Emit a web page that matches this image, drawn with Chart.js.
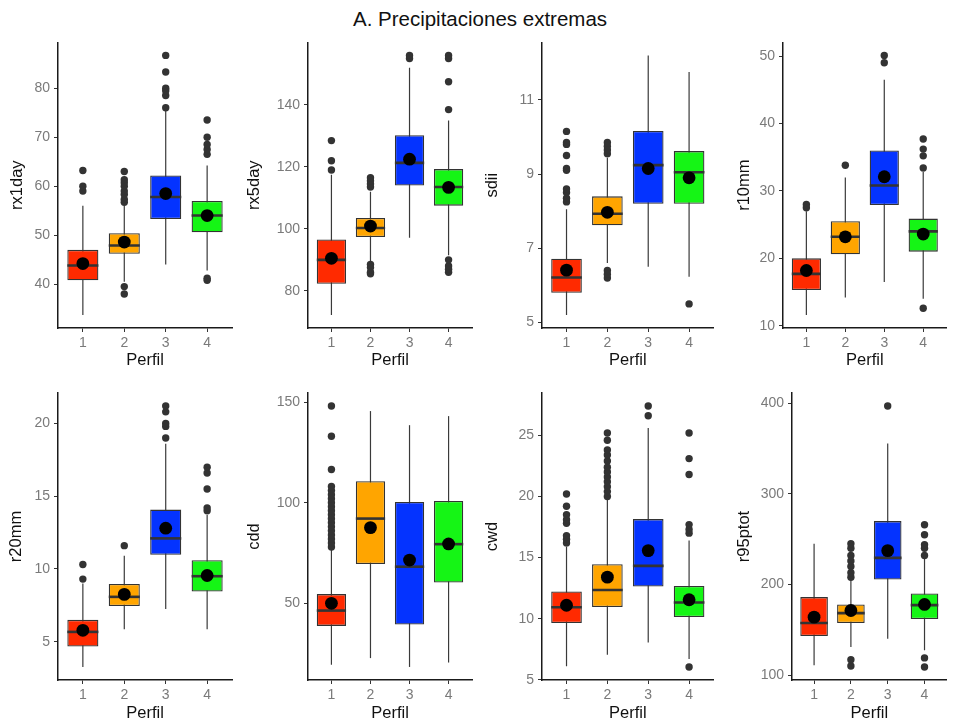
<!DOCTYPE html>
<html>
<head>
<meta charset="utf-8">
<script src="https://cdn.jsdelivr.net/npm/chart.js@4.4.1/dist/chart.umd.min.js"></script>
<style>
body{margin:0;background:#fff;width:953px;height:724px;position:relative;overflow:hidden;font-family:"Liberation Sans",Arial,sans-serif}
#title{position:absolute;left:0;width:960px;top:7px;text-align:center;font-size:20.5px;color:#111}
canvas{position:absolute}
</style>
</head>
<body>
<div id="title">A. Precipitaciones extremas</div>
<script>
// categories (Perfil) and box colours
const perfiles = [1, 2, 3, 4]
const boxColors = ["#ff2a00", "#ffa500", "#0433ff", "#15f515"]

// stats per perfil: [lower whisker, Q1, median, Q3, upper whisker]
const rx1day_stats = [[33.7,40.8,43.8,47.0,56.0],[40.5,46.2,47.9,50.4,56.0],[44.0,53.3,57.8,62.2,75.5],[42.8,50.6,54.0,57.0,64.2]]
const rx1day_mean = [44.2, 48.6, 58.5, 54.0]
const rx1day_out = [[59.0,60.0,63.2],[38.0,39.5,56.7,57.3,58.3,59.0,60.0,60.7,61.3,63.0],[76.0,78.5,79.5,80.0,83.3,86.7],[40.8,41.2,66.5,67.5,68.5,70.0,73.5]]
const rx1day_ticks = [40, 50, 60, 70, 80]

const rx5day_stats = [[72.2,82.3,90.0,96.6,117.5],[89.5,97.4,100.3,103.5,112.0],[97.1,114.0,121.3,130.2,152.0],[91.5,107.5,113.5,119.3,135.0]]
const rx5day_mean = [90.5, 100.9, 122.5, 113.4]
const rx5day_out = [[119.0,122.0,128.5],[85.5,86.0,87.5,88.5,113.5,114.5,115.5,116.5],[155.0,156.0],[86.0,87.0,88.0,90.0,138.5,147.5,155.0,156.0]]
const rx5day_ticks = [80, 100, 120, 140]

const sdii_stats = [[5.2,5.8,6.21,6.72,8.05],[6.6,7.62,7.93,8.4,9.45],[6.5,8.2,9.24,10.16,12.2],[6.23,8.2,9.05,9.62,11.75]]
const sdii_mean = [6.41, 7.97, 9.15, 8.9]
const sdii_out = [[8.25,8.35,8.5,8.6,9.1,9.15,9.5,9.8,9.85,10.15],[6.2,6.3,6.4,9.55,9.65,9.75,9.85],[],[5.5]]
const sdii_ticks = [5, 7, 9, 11]

const r10mm_stats = [[11.6,15.3,17.7,20.0,27.0],[14.2,20.6,23.2,25.5,32.0],[16.5,27.9,30.8,36.0,46.5],[14.0,21.0,24.0,25.9,32.8]]
const r10mm_mean = [18.2, 23.2, 32.1, 23.6]
const r10mm_out = [[27.5,28.0],[33.8],[49.0,50.1],[12.6,33.4,35.2,36.2,37.7]]
const r10mm_ticks = [10, 20, 30, 40, 50]

const r20mm_stats = [[3.26,4.66,5.67,6.5,9.0],[5.85,7.45,8.08,8.97,10.9],[7.25,10.98,12.1,14.08,18.6],[5.85,8.44,9.5,10.6,13.7]]
const r20mm_mean = [5.78, 8.25, 12.8, 9.55]
const r20mm_out = [[9.3,10.3],[11.6],[19.0,19.8,20.0,20.8,21.2],[14.0,14.2,15.5,16.6,17.0]]
const r20mm_ticks = [5, 10, 15, 20]

const cdd_stats = [[19.5,38.8,46.4,54.6,77.0],[22.8,69.5,92.1,110.7,145.5],[18.4,39.5,68.2,100.3,138.5],[20.6,60.3,79.4,100.8,143.0]]
const cdd_mean = [50.0, 87.6, 71.5, 79.5]
const cdd_out = [[78,80,82,84,86,88,90,92,94,96,98,100,102,104,106,108,116.5,133,148],[],[],[]]
const cdd_ticks = [50, 100, 150]

const cwd_stats = [[6.1,9.65,10.93,12.23,15.9],[7.05,10.95,12.35,14.46,19.8],[8.05,12.63,14.32,18.15,25.6],[6.7,10.14,11.33,12.67,16.4]]
const cwd_mean = [11.1, 13.4, 15.57, 11.55]
const cwd_out = [[16.2,16.5,16.8,17.8,18.1,18.5,19.2,20.2],[20.0,20.4,20.8,21.2,21.6,22.0,22.4,22.9,23.4,23.8,24.6,25.2],[26.6,27.4],[6.05,17.0,17.3,17.7,21.8,23.1,25.2]]
const cwd_ticks = [5, 10, 15, 20, 25]

const r95ptot_stats = [[111,143.2,157.5,186.1,245],[131,157.5,168.4,178,205],[140,205.5,229.4,270,355.7],[127.5,161.9,177.3,190.1,230]]
const r95ptot_mean = [164, 171.3, 237.4, 178]
const r95ptot_out = [[],[110,117,208,213,220,226,232,240,245],[397],[109,119,232,240,244,255,266]]
const r95ptot_ticks = [100, 200, 300, 400]

// panel placement: cell left/top/width/height, axis x, axis right, axis top, axis bottom, y title centre
const panels = [
  ["rx1day", rx1day_stats, rx1day_mean, rx1day_out, rx1day_ticks, [0,30,240,340, 58,232,40,328, 18]],
  ["rx5day", rx5day_stats, rx5day_mean, rx5day_out, rx5day_ticks, [240,30,240,340, 308,472,40,328, 15]],
  ["sdii", sdii_stats, sdii_mean, sdii_out, sdii_ticks, [480,30,240,340, 542,718,40,328, 13]],
  ["r10mm", r10mm_stats, r10mm_mean, r10mm_out, r10mm_ticks, [720,30,233,340, 783,951,40,328, 25]],
  ["r20mm", r20mm_stats, r20mm_mean, r20mm_out, r20mm_ticks, [0,370,240,354, 58,232,393,680, 17]],
  ["cdd", cdd_stats, cdd_mean, cdd_out, cdd_ticks, [240,370,240,354, 308,472,393,680, 15]],
  ["cwd", cwd_stats, cwd_mean, cwd_out, cwd_ticks, [480,370,240,354, 542,717,393,680, 13]],
  ["r95ptot", r95ptot_stats, r95ptot_mean, r95ptot_out, r95ptot_ticks, [720,370,233,354, 792,951,393,680, 25]]
]

Chart.defaults.font.family = "'Liberation Sans', Arial, sans-serif"

panels.forEach(([name, stats, mean, out, ticks, L]) => {
  const [cl, ct, cw, ch, ax, ar, at, ab, yt] = L

  const cv = document.createElement("canvas")
  cv.width = cw
  cv.height = ch
  cv.style.left = cl + "px"
  cv.style.top = ct + "px"
  document.body.appendChild(cv)

  // ggplot style limits: data range + 5%
  let all = []
  stats.forEach(s => all.push(s[0], s[4]))
  out.forEach(o => all = all.concat(o))
  const lo = Math.min(...all), hi = Math.max(...all)
  const pad = (hi - lo) * 0.05

  const outPts = []
  out.forEach((o, i) => o.forEach(v => outPts.push({x: perfiles[i], y: v})))

  new Chart(cv, {
    type: "bar",
    data: {
      datasets: [
        {
          type: "bar",
          data: stats.map((s, i) => ({x: perfiles[i], y: [s[0], s[4]]})),
          backgroundColor: "#3a3a3a",
          maxBarThickness: 1.2,
          grouped: false,
          order: 5
        },
        {
          type: "bar",
          data: stats.map((s, i) => ({x: perfiles[i], y: [s[1], s[3]]})),
          backgroundColor: boxColors,
          borderColor: "#333",
          borderWidth: 1.3,
          borderSkipped: false,
          barPercentage: 0.75,
          categoryPercentage: 1,
          grouped: false,
          order: 4
        },
        {
          type: "scatter",
          data: stats.map((s, i) => ({x: perfiles[i], y: s[2]})),
          pointStyle: "line",
          pointRadius: c => {
            const x = c.chart.scales.x
            return x.getPixelForValue(1.375) - x.getPixelForValue(1)
          },
          borderColor: "#333",
          borderWidth: 2.6,
          order: 3
        },
        {
          type: "scatter",
          data: outPts,
          pointRadius: 3.7,
          backgroundColor: "#333",
          borderWidth: 0,
          order: 2
        },
        {
          type: "scatter",
          data: mean.map((m, i) => ({x: perfiles[i], y: m})),
          pointRadius: 6.4,
          backgroundColor: "#000",
          borderWidth: 0,
          order: 1
        }
      ]
    },
    options: {
      responsive: false,
      animation: false,
      events: [],
      layout: {padding: {top: at - ct, right: cl + cw - ar, left: 0, bottom: 0}},
      plugins: {legend: {display: false}, tooltip: {enabled: false}},
      scales: {
        x: {
          type: "linear",
          min: 0.4,
          max: 4.6,
          offset: false,
          afterBuildTicks: s => { s.ticks = perfiles.map(v => ({value: v})) },
          afterFit: s => { s.height = ct + ch - ab },
          grid: {drawOnChartArea: false, offset: false, tickLength: 4, tickColor: "#333", tickWidth: 1},
          border: {color: "#1a1a1a", width: 1.5},
          ticks: {color: "#7a7a7a", font: {size: 14}, padding: 3, autoSkip: false, maxRotation: 0, callback: v => String(v)},
          title: {display: true, text: "Perfil", color: "#111", font: {size: 16.5}, padding: {top: 0, bottom: ct === 30 ? 0 : 1}}
        },
        y: {
          min: lo - pad,
          max: hi + pad,
          afterBuildTicks: s => { s.ticks = ticks.map(v => ({value: v})) },
          afterFit: s => { s.width = ax - cl },
          grid: {drawOnChartArea: false, tickLength: 4, tickColor: "#333", tickWidth: 1},
          border: {color: "#1a1a1a", width: 1.5},
          ticks: {color: "#7a7a7a", font: {size: 14}, padding: 4, autoSkip: false, callback: v => String(v)},
          title: {display: true, text: name, color: "#111", font: {size: 16.5}, padding: {top: yt - 10, bottom: 0}}
        }
      }
    }
  })
})
</script>
</body>
</html>
